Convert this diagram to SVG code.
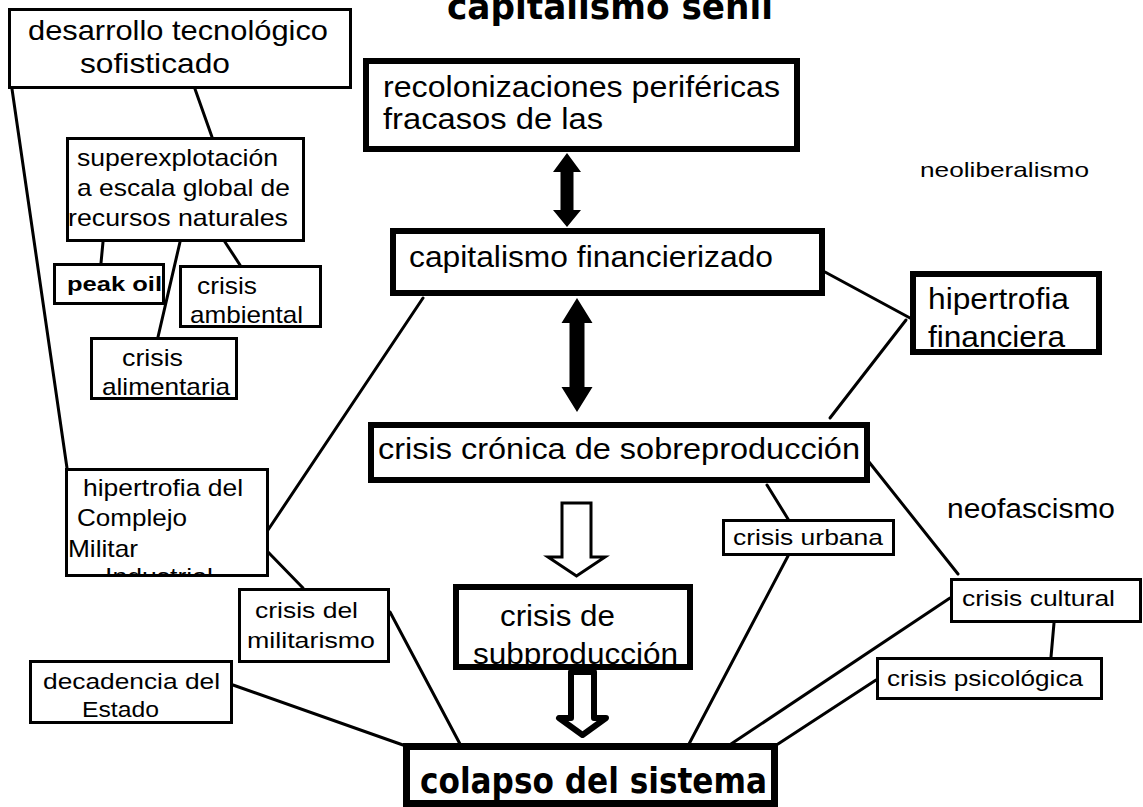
<svg xmlns="http://www.w3.org/2000/svg" width="1143" height="807" viewBox="0 0 1143 807">
<style>
text{font-family:"Liberation Sans",Arial,sans-serif;fill:#000}
.thin{fill:#fff;stroke:#000;stroke-width:3}
.thick{fill:#fff;stroke:#000;stroke-width:6}
.frame{fill:none;stroke:#000;stroke-width:6}
.ln{stroke:#000;stroke-width:3;fill:none;stroke-linecap:round}
.big{font-size:29px}
.mid{font-size:24px}
.sm{font-size:22px}
.comic{font-family:"Comic Sans MS","DejaVu Sans",sans-serif;font-weight:bold}
</style>
<defs>
<clipPath id="cpInd"><rect x="68" y="471" width="198" height="103"/></clipPath>
<clipPath id="cpSub"><rect x="459" y="590" width="228" height="74"/></clipPath>
<clipPath id="cpFin"><rect x="916" y="277" width="180" height="72"/></clipPath>
</defs>
<rect width="1143" height="807" fill="#fff"/>
<text class="comic" x="447" y="19" font-size="36" textLength="326" lengthAdjust="spacingAndGlyphs">capitalismo senil</text>

<g id="connectors">
<line class="ln" x1="195" y1="89" x2="212" y2="137"/>
<line class="ln" x1="12" y1="89" x2="67" y2="468"/>
<line class="ln" x1="103" y1="242" x2="101" y2="263"/>
<line class="ln" x1="180" y1="242" x2="158" y2="337"/>
<line class="ln" x1="225" y1="242" x2="240" y2="265"/>
<line class="ln" x1="423" y1="298" x2="268" y2="530"/>
<line class="ln" x1="268" y1="552" x2="303" y2="588"/>
<line class="ln" x1="390" y1="612" x2="460" y2="744"/>
<line class="ln" x1="233" y1="685" x2="403" y2="745"/>
<line class="ln" x1="825" y1="272" x2="910" y2="318"/>
<line class="ln" x1="906" y1="320" x2="830" y2="418"/>
<line class="ln" x1="767" y1="485" x2="788" y2="519"/>
<line class="ln" x1="788" y1="556" x2="689" y2="744"/>
<line class="ln" x1="869" y1="462" x2="958" y2="574"/>
<line class="ln" x1="950" y1="598" x2="731" y2="744"/>
<line class="ln" x1="1054" y1="623" x2="1051" y2="657"/>
<line class="ln" x1="876" y1="680" x2="778" y2="744"/>
<polygon fill="#000" points="567,153 581,172 573.5,172 573.5,210 581,210 567,227 553,210 560.5,210 560.5,172 553,172"/>
<polygon fill="#000" points="577,298 592.5,323 584.5,323 584.5,387 592.5,387 577,412 561.5,387 569.5,387 569.5,323 561.5,323"/>
<polygon fill="#fff" stroke="#000" stroke-width="3" points="562,503 591,503 591,557 605,557 576.5,576 548,557 562,557"/>
<polygon fill="#fff" stroke="#000" stroke-width="6" stroke-linejoin="round" points="571,672 594,672 594,718 606,718 582.5,735 559,718 571,718"/>
</g>

<g id="n-desarrollo">
<rect class="thin" x="9.5" y="9.5" width="341" height="78"/>
<text x="28" y="40" font-size="28" textLength="300" lengthAdjust="spacingAndGlyphs">desarrollo tecnológico</text>
<text x="80" y="73" font-size="28" textLength="150" lengthAdjust="spacingAndGlyphs">sofisticado</text>
</g>

<g id="n-recolonizaciones">
<rect class="thick" x="366" y="61" width="431" height="88"/>
<text class="big" x="383" y="97" textLength="397" lengthAdjust="spacingAndGlyphs">recolonizaciones periféricas</text>
<text class="big" x="383" y="129" textLength="220" lengthAdjust="spacingAndGlyphs">fracasos de las</text>
</g>

<g id="n-capfin">
<rect class="thick" x="393" y="231" width="429" height="62"/>
<text class="big" x="409" y="267" textLength="364" lengthAdjust="spacingAndGlyphs">capitalismo financierizado</text>
</g>

<g id="n-cronica">
<rect class="thick" x="371" y="425" width="496" height="55"/>
<text class="big" x="378" y="459" textLength="482" lengthAdjust="spacingAndGlyphs">crisis crónica de sobreproducción</text>
</g>

<g id="n-subproduccion">
<rect fill="#fff" x="456" y="587" width="234" height="80"/>
<text class="big" x="500" y="626" textLength="115" lengthAdjust="spacingAndGlyphs">crisis de</text>
<text class="big" x="473" y="664" clip-path="url(#cpSub)" textLength="205" lengthAdjust="spacingAndGlyphs">subproducción</text>
<rect class="frame" x="456" y="587" width="234" height="80"/>
</g>

<g id="n-colapso">
<rect fill="#fff" stroke="#000" stroke-width="7" x="406.5" y="746.5" width="368" height="57"/>
<text class="comic" x="420" y="793" font-size="35" textLength="347" lengthAdjust="spacingAndGlyphs">colapso del sistema</text>
</g>

<g id="n-hipfin">
<rect fill="#fff" x="913" y="274" width="186" height="78"/>
<text class="big" x="928" y="309" textLength="141" lengthAdjust="spacingAndGlyphs">hipertrofia</text>
<text class="big" x="928" y="347" clip-path="url(#cpFin)" textLength="137" lengthAdjust="spacingAndGlyphs">financiera</text>
<rect class="frame" x="913" y="274" width="186" height="78"/>
</g>

<g id="n-superexplotacion">
<rect class="thin" x="67.5" y="138.5" width="236" height="102"/>
<text class="mid" x="77" y="166" textLength="201" lengthAdjust="spacingAndGlyphs">superexplotación</text>
<text class="mid" x="77" y="196" textLength="213" lengthAdjust="spacingAndGlyphs">a escala global de</text>
<text class="mid" x="68" y="226" textLength="220" lengthAdjust="spacingAndGlyphs">recursos naturales</text>
</g>

<g id="n-peakoil">
<rect class="thin" x="54.5" y="264.5" width="109" height="39"/>
<text x="67" y="291" font-size="21" font-weight="bold" textLength="95" lengthAdjust="spacingAndGlyphs">peak oil</text>
</g>

<g id="n-ambiental">
<rect class="thin" x="180.5" y="266.5" width="140" height="60"/>
<text class="mid" x="197" y="294" textLength="60" lengthAdjust="spacingAndGlyphs">crisis</text>
<text class="mid" x="190" y="323" textLength="113" lengthAdjust="spacingAndGlyphs">ambiental</text>
</g>

<g id="n-alimentaria">
<rect class="thin" x="91.5" y="338.5" width="145" height="60"/>
<text class="mid" x="122" y="366" textLength="61" lengthAdjust="spacingAndGlyphs">crisis</text>
<text class="mid" x="102" y="395" textLength="128" lengthAdjust="spacingAndGlyphs">alimentaria</text>
</g>

<g id="n-complejo">
<rect class="thin" x="66.5" y="469.5" width="201" height="106"/>
<text class="mid" x="83" y="496" textLength="160" lengthAdjust="spacingAndGlyphs">hipertrofia del</text>
<text class="mid" x="77" y="526" textLength="110" lengthAdjust="spacingAndGlyphs">Complejo</text>
<text class="mid" x="68" y="557" textLength="70" lengthAdjust="spacingAndGlyphs">Militar</text>
<text class="mid" x="105" y="585" clip-path="url(#cpInd)" textLength="108" lengthAdjust="spacingAndGlyphs">Industrial</text>
<rect fill="none" stroke="#000" stroke-width="3" x="66.5" y="469.5" width="201" height="106"/>
</g>

<g id="n-militarismo">
<rect class="thin" x="239.5" y="589.5" width="149" height="72"/>
<text class="sm" x="255" y="618" textLength="103" lengthAdjust="spacingAndGlyphs">crisis del</text>
<text class="sm" x="247" y="648" textLength="128" lengthAdjust="spacingAndGlyphs">militarismo</text>
</g>

<g id="n-decadencia">
<rect class="thin" x="30.5" y="661.5" width="201" height="61"/>
<text class="sm" x="43" y="689" textLength="177" lengthAdjust="spacingAndGlyphs">decadencia del</text>
<text class="sm" x="82" y="717" textLength="77" lengthAdjust="spacingAndGlyphs">Estado</text>
</g>

<g id="n-urbana">
<rect class="thin" x="723.5" y="520.5" width="170" height="34"/>
<text class="sm" x="733" y="545" textLength="150" lengthAdjust="spacingAndGlyphs">crisis urbana</text>
</g>

<g id="n-cultural">
<rect class="thin" x="951.5" y="579.5" width="189" height="42"/>
<text class="sm" x="962" y="606" textLength="153" lengthAdjust="spacingAndGlyphs">crisis cultural</text>
</g>

<g id="n-psicologica">
<rect class="thin" x="877.5" y="658.5" width="224" height="40"/>
<text class="sm" x="887" y="686" textLength="196" lengthAdjust="spacingAndGlyphs">crisis psicológica</text>
</g>

<g id="n-neoliberalismo">
<text x="920" y="177" font-size="21" textLength="169" lengthAdjust="spacingAndGlyphs">neoliberalismo</text>
</g>

<g id="n-neofascismo">
<text x="947" y="518" font-size="27" textLength="168" lengthAdjust="spacingAndGlyphs">neofascismo</text>
</g>
</svg>
